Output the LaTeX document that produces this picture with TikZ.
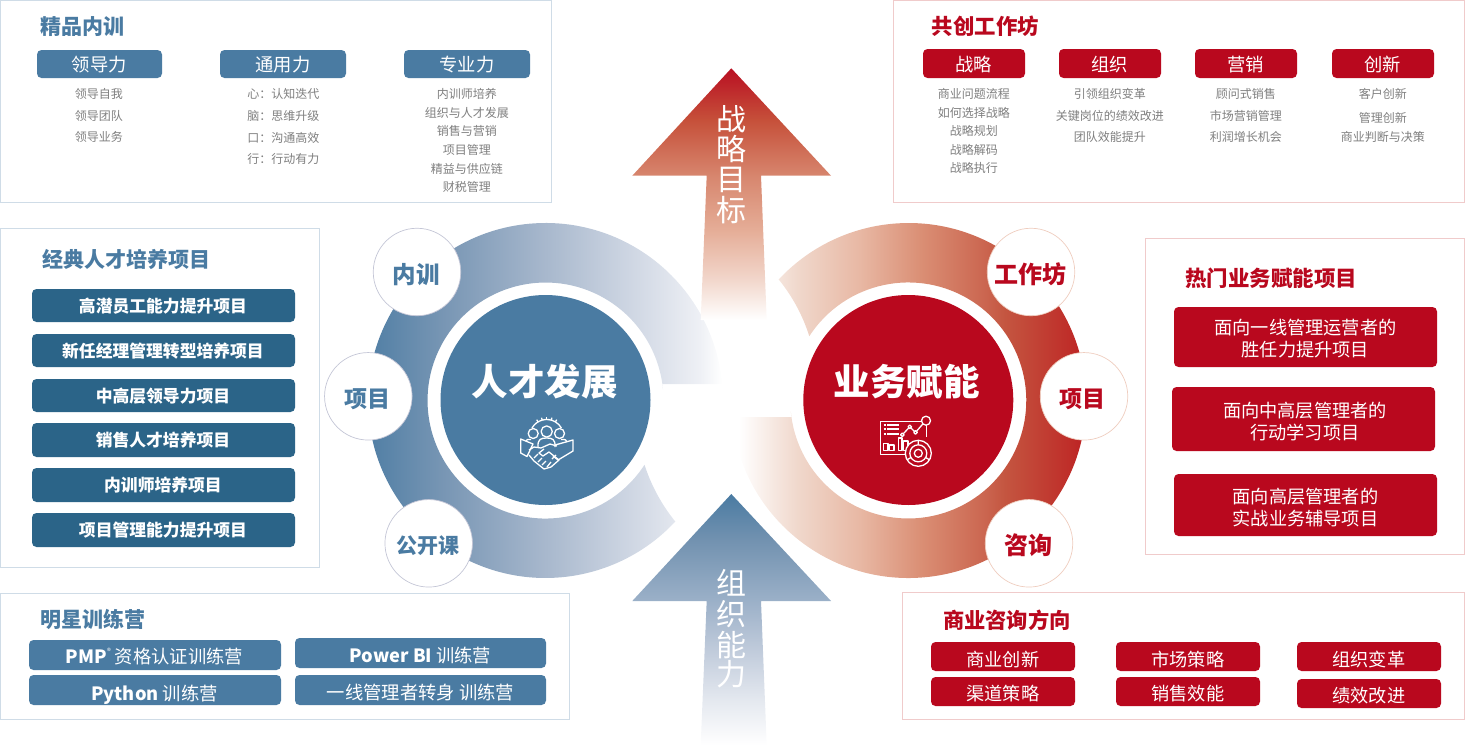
\documentclass[tikz,border=0pt]{standalone}
\usepackage{fontspec}
\setmainfont{Liberation Sans}
\newfontfamily\cjk{Noto Sans CJK SC}
\definecolor{bluec}{HTML}{4A7BA2}
\definecolor{bluedk}{HTML}{2B6488}
\definecolor{redc}{HTML}{B9081E}
\definecolor{grayt}{HTML}{7F7F7F}
\definecolor{bluebd}{HTML}{CFDCE7}
\definecolor{redbd}{HTML}{F0CBCB}
\definecolor{satbl}{HTML}{C4C6D6}
\definecolor{a1}{HTML}{4C7CA3}\definecolor{a2}{HTML}{7896B4}\definecolor{a3}{HTML}{A8B8CD}\definecolor{a4}{HTML}{D2D9E5}\definecolor{a5}{HTML}{EEF0F5}
\definecolor{b1}{HTML}{F0D8CC}\definecolor{b2}{HTML}{E8B8A4}\definecolor{b3}{HTML}{DA8E74}\definecolor{b4}{HTML}{CB6650}\definecolor{b5}{HTML}{C45540}\definecolor{b6}{HTML}{BF2F2A}\definecolor{b7}{HTML}{BA1A20}
\definecolor{c1}{HTML}{F2D7CC}\definecolor{c2}{HTML}{E5AD97}\definecolor{c3}{HTML}{D7866E}\definecolor{c4}{HTML}{C6503A}\definecolor{c5}{HTML}{B90F22}
\definecolor{d1}{HTML}{E4E8EF}\definecolor{d2}{HTML}{C0CBDB}\definecolor{d3}{HTML}{9BB0C8}\definecolor{d4}{HTML}{7292B0}\definecolor{d5}{HTML}{4A7BA2}
\pgfdeclarehorizontalshading{ringLeft}{100bp}{color(0bp)=(a1);color(25bp)=(a1);color(36.6bp)=(a2);color(50.7bp)=(a3);color(63.4bp)=(a4);color(71.9bp)=(a5);color(75bp)=(white);color(100bp)=(white)}
\pgfdeclarehorizontalshading{ringRight}{100bp}{color(0bp)=(white);color(26bp)=(white);color(34bp)=(b1);color(42.6bp)=(b2);color(51.2bp)=(b3);color(59.8bp)=(b4);color(62.7bp)=(b5);color(71.3bp)=(b6);color(75bp)=(b7);color(100bp)=(b7)}
\pgfdeclareverticalshading{arrUp}{100bp}{color(0bp)=(white);color(25bp)=(white);color(32.9bp)=(c1);color(42.9bp)=(c2);color(53.6bp)=(c3);color(64.7bp)=(c4);color(75bp)=(c5);color(100bp)=(c5)}
\pgfdeclareverticalshading{arrDown}{100bp}{color(0bp)=(white);color(25bp)=(white);color(34bp)=(d1);color(43.9bp)=(d2);color(53.7bp)=(d3);color(65.8bp)=(d4);color(75bp)=(d5);color(100bp)=(d5)}
\newcount\lblcnt
% \Lbl[font]{x}{y}{size}{colour}{text}: y is the vertical middle of the glyphs
\newcommand\Lbl[6][\cjk]{\global\advance\lblcnt by 1
  \node[lbl,text=#5,name=t\the\lblcnt] at ({#2-0.115*#4},{#3+0.41*#4}) {\fontsize{#4}{#4}\selectfont#1 #6};}
\newcommand\Chip[6]{\node[chip,fill=#6,minimum width={(#4-#2)*1pt},minimum height={(#5-#3)*1pt},name=#1] at ({(#2+#4)/2},{(#3+#5)/2}) {};}
\newcommand\Panel[6]{\node[panel,draw=#6,minimum width={(#4-#2-0.8)*1pt},minimum height={(#5-#3-0.8)*1pt},name=#1] at ({(#2+#4)/2},{(#3+#5)/2}) {};}
\tikzset{
  lbl/.style={anchor=base,inner sep=0pt,outer sep=0pt},
  chip/.style={rectangle,rounded corners=4.5pt,inner sep=0pt,outer sep=0pt},
  panel/.style={rectangle,fill=white,line width=1pt,inner sep=0pt,outer sep=0pt},
  hub/.style={circle,inner sep=0pt,minimum size=210pt},
  sat/.style={circle,fill=white,inner sep=0pt,minimum size=87.5pt,line width=.7pt},
  ico/.style={draw=white,line width=1.3pt,line join=round},
}
\begin{document}
\begin{tikzpicture}[x=1pt,y=-1pt]
\useasboundingbox (0,0) rectangle (1465,747);
% rings
\path[shading=ringLeft] (662.3,384) -- (722.2,384) arc[start angle=5.33,end angle=317,radius=177.5pt]
  .. controls (661.5,504.5) and (651.3,485.6) .. (644.5,464.8) arc[start angle=327,end angle=5.33,radius=118pt] -- cycle;
\path[shading=ringRight] (791.5,417) -- (731.8,417) arc[start angle=185.33,end angle=497,radius=177.5pt]
  .. controls (792.5,296.5) and (802.7,315.4) .. (809.3,336.2) arc[start angle=507,end angle=185.33,radius=118pt] -- cycle;
% arrows
\path[shading=arrUp] (731.3,68.3) -- (831,175.7) -- (761,175.7) -- (766.7,320) -- (700.7,320) -- (706.7,175.7) -- (632.3,175.7) -- cycle;
\path[shading=arrDown] (731.3,494) -- (831,601) -- (761,601) -- (766.7,745) -- (700.7,745) -- (706.7,601) -- (632.3,601) -- cycle;
\Lbl{731.5}{118}{30}{white}{战}
\Lbl{731.5}{148}{30}{white}{略}
\Lbl{731.5}{178}{30}{white}{目}
\Lbl{731.5}{209}{30}{white}{标}
\Lbl{731.5}{582}{30}{white}{组}
\Lbl{731.5}{613}{30}{white}{织}
\Lbl{731.5}{644}{30}{white}{能}
\Lbl{731.5}{673}{30}{white}{力}
% hubs
\node[hub,fill=bluec] (hubL) at (545.5,400) {};
\node[hub,fill=redc] (hubR) at (908.3,400) {};
\Lbl[\cjk\bfseries]{545}{381}{36.5}{white}{人才发展}
\Lbl[\cjk\bfseries]{907}{381}{36.5}{white}{业务赋能}
% satellites
\node[sat,draw=satbl] (sL1) at (417,272) {};
\node[sat,draw=satbl] (sL2) at (368.3,396.3) {};
\node[sat,draw=satbl] (sL3) at (428.7,543.3) {};
\node[sat,draw=b2!70] (sR1) at (1031,272) {};
\node[sat,draw=b2!70] (sR2) at (1084,396.3) {};
\node[sat,draw=b2!70] (sR3) at (1029,543.3) {};
\Lbl[\cjk\bfseries]{416.5}{274}{23.5}{bluec}{内训}
\Lbl[\cjk\bfseries]{367.5}{398}{23}{bluec}{项目}
\Lbl[\cjk\bfseries]{428.5}{544.5}{21}{bluec}{公开课}
\Lbl[\cjk\bfseries]{1031}{274}{24}{redc}{工作坊}
\Lbl[\cjk\bfseries]{1083}{398}{23}{redc}{项目}
\Lbl[\cjk\bfseries]{1028.5}{545}{24}{redc}{咨询}
% icon left: gear, people, handshake
\begin{scope}[ico]
\draw (532,428) arc[start angle=150,end angle=30,radius=17pt];
\foreach \a in {120,105,90,75,60}{\draw ([shift={(546.7,437)}]-\a:17.5) -- ([shift={(546.7,437)}]-\a:20);}
\draw (546.7,431.5) circle[radius=5.6pt];
\draw (533.2,433.5) circle[radius=5pt];
\draw (559.5,433.5) circle[radius=5pt];
\draw (538,447) .. controls (537.5,439) and (541,438) .. (546.7,438) .. controls (552,438) and (555.5,439) .. (555,447);
\draw (526,441) .. controls (526,439.5) and (528,439) .. (531,439.5);
\draw (561,439.5) .. controls (565,439) and (567,440) .. (567,442);
\draw (520.7,439) -- (520.7,453) -- (527,456.5) -- (533,444) -- cycle;
\draw (555,445) -- (573,440) -- (573,451) -- (558,460) -- (553,456);
\draw (529,450) -- (534,447) -- (541,448) -- (550,444) -- (557,446);
\draw (544,449) -- (539,453) -- (543,456) -- (549,452) -- (559,460) -- (551,467) -- (544,469) -- (534,461) -- (529,455);
\draw (534,458) -- (538,454);\draw (538,462) -- (542,458);\draw (542,465) -- (546,461);\draw (547,467) -- (551,462);
\draw (552,459) -- (556,455);
\end{scope}
% icon right: chart and target
\begin{scope}[ico]
\draw (926.5,437) -- (926.5,425);
\draw (921,421.7) -- (880.7,421.7) -- (880.7,454.7) -- (905,454.7);
\foreach \y in {425,429,434}{\draw[line width=1.1pt] (883.5,\y) -- (885.5,\y) (887,\y) -- (899,\y);}
\draw (883.5,443.5) rectangle (888,450.5);
\draw (889.5,445) rectangle (894,450.5);
\draw (898.5,438) rectangle (902,450.5);
\draw (903.5,441) rectangle (908,450.5);
\draw (902.3,434.8) -- (909.8,426.8) -- (915.5,432.4) -- (922.8,424);
\draw[fill=redc] (902.3,434.8) circle[radius=1.8pt];
\draw[fill=redc] (909.8,426.8) circle[radius=1.8pt];
\draw[fill=redc] (915.5,432.4) circle[radius=1.8pt];
\draw[fill=redc] (926,420.7) circle[radius=4.5pt];
\draw[fill=redc] (918.3,453.3) circle[radius=13pt];
\draw (918.3,453.3) circle[radius=8.5pt];
\draw (918.3,453.3) circle[radius=4pt];
\draw (918.3,440.3) -- (918.3,444.8) (907,459.8) -- (911,457.5) (929.6,459.8) -- (925.6,457.5);
\end{scope}
% top-left panel
\Panel{p1}{0}{0}{552}{203}{bluebd}
\Lbl[\cjk\bfseries]{82.5}{26}{21}{bluec}{精品内训}
\Chip{c11}{37}{50}{162}{78}{bluec}
\Chip{c12}{220}{50}{346}{78}{bluec}
\Chip{c13}{404}{50}{530}{78}{bluec}
\Lbl{99.5}{64}{18.3}{white}{领导力}
\Lbl{283}{64}{18.3}{white}{通用力}
\Lbl{467}{64}{18.3}{white}{专业力}
\Lbl{99}{94}{12}{grayt}{领导自我}
\Lbl{99}{116}{12}{grayt}{领导团队}
\Lbl{99}{137}{12}{grayt}{领导业务}
\Lbl{283.5}{94}{12}{grayt}{心：认知迭代}
\Lbl{283.5}{116}{12}{grayt}{脑：思维升级}
\Lbl{283.5}{138}{12}{grayt}{口：沟通高效}
\Lbl{283.5}{159}{12}{grayt}{行：行动有力}
\Lbl{467}{94}{12}{grayt}{内训师培养}
\Lbl{467}{113}{12}{grayt}{组织与人才发展}
\Lbl{467}{131}{12}{grayt}{销售与营销}
\Lbl{467}{150}{12}{grayt}{项目管理}
\Lbl{467}{169}{12}{grayt}{精益与供应链}
\Lbl{467}{187}{12}{grayt}{财税管理}
% left panel
\Panel{p2}{0}{228}{320}{568}{bluebd}
\Lbl[\cjk\bfseries]{127}{259}{21}{bluec}{经典人才培养项目}
\Chip{c21}{32}{289}{295}{322}{bluedk}
\Chip{c22}{32}{334}{295}{367}{bluedk}
\Chip{c23}{32}{379}{295}{412}{bluedk}
\Chip{c24}{32}{423}{295}{457}{bluedk}
\Chip{c25}{32}{468}{295}{502}{bluedk}
\Chip{c26}{32}{513}{295}{547}{bluedk}
\Lbl[\cjk\bfseries]{163}{305.5}{16.8}{white}{高潜员工能力提升项目}
\Lbl[\cjk\bfseries]{163}{350.5}{16.8}{white}{新任经理管理转型培养项目}
\Lbl[\cjk\bfseries]{163}{395.5}{16.8}{white}{中高层领导力项目}
\Lbl[\cjk\bfseries]{163}{440}{16.8}{white}{销售人才培养项目}
\Lbl[\cjk\bfseries]{163}{485}{16.8}{white}{内训师培养项目}
\Lbl[\cjk\bfseries]{163}{530}{16.8}{white}{项目管理能力提升项目}
% bottom-left panel
\Panel{p3}{0}{593}{570}{720}{bluebd}
\Lbl[\cjk\bfseries]{93}{619}{21}{bluec}{明星训练营}
\Chip{c31}{29}{640}{281}{670}{bluec}
\Chip{c32}{295}{638}{546}{668}{bluec}
\Chip{c33}{29}{675}{281}{705}{bluec}
\Chip{c34}{295}{675}{546}{705}{bluec}
\Lbl{154.5}{656}{18.3}{white}{{\bfseries PMP}\raisebox{.5em}{\fontsize{8}{8}\selectfont ®} 资格认证训练营}
\Lbl{420.5}{655}{18.3}{white}{{\bfseries Power BI} 训练营}
\Lbl{154.5}{693}{18.3}{white}{{\bfseries Python} 训练营}
\Lbl{420.5}{692}{18.3}{white}{一线管理者转身 训练营}
% top-right panel
\Panel{p4}{893}{0}{1465}{203}{redbd}
\Lbl[\cjk\bfseries]{985.5}{26}{21.4}{redc}{共创工作坊}
\Chip{c41}{923}{49}{1025}{78}{redc}
\Chip{c42}{1059}{49}{1161}{78}{redc}
\Chip{c43}{1195}{49}{1297}{78}{redc}
\Chip{c44}{1332}{49}{1434}{78}{redc}
\Lbl{974}{64}{18.3}{white}{战略}
\Lbl{1110}{64}{18.3}{white}{组织}
\Lbl{1246}{64}{18.3}{white}{营销}
\Lbl{1383}{64}{18.3}{white}{创新}
\Lbl{974}{94}{12}{grayt}{商业问题流程}
\Lbl{974}{113}{12}{grayt}{如何选择战略}
\Lbl{974}{131}{12}{grayt}{战略规划}
\Lbl{974}{150}{12}{grayt}{战略解码}
\Lbl{974}{168}{12}{grayt}{战略执行}
\Lbl{1110}{94}{12}{grayt}{引领组织变革}
\Lbl{1110}{116}{12}{grayt}{关键岗位的绩效改进}
\Lbl{1110}{137}{12}{grayt}{团队效能提升}
\Lbl{1246}{94}{12}{grayt}{顾问式销售}
\Lbl{1246}{116}{12}{grayt}{市场营销管理}
\Lbl{1246}{137}{12}{grayt}{利润增长机会}
\Lbl{1383}{94}{12}{grayt}{客户创新}
\Lbl{1383}{118}{12}{grayt}{管理创新}
\Lbl{1383}{137}{12}{grayt}{商业判断与决策}
% right panel
\Panel{p5}{1145}{238}{1465}{555}{redbd}
\Lbl[\cjk\bfseries]{1271}{278}{21.5}{redc}{热门业务赋能项目}
\Chip{c51}{1174}{307}{1437}{367}{redc}
\Chip{c52}{1172}{387}{1435}{451}{redc}
\Chip{c53}{1174}{474}{1437}{536}{redc}
\Lbl{1305.5}{327}{18.2}{white}{面向一线管理运营者的}
\Lbl{1305.5}{349}{18.2}{white}{胜任力提升项目}
\Lbl{1305}{410}{18.2}{white}{面向中高层管理者的}
\Lbl{1305}{432}{18.2}{white}{行动学习项目}
\Lbl{1305.5}{496}{18.2}{white}{面向高层管理者的}
\Lbl{1305.5}{518}{18.2}{white}{实战业务辅导项目}
% bottom-right panel
\Panel{p6}{902}{592}{1465}{720}{redbd}
\Lbl[\cjk\bfseries]{1007}{620}{21.3}{redc}{商业咨询方向}
\Chip{c61}{931}{642}{1075}{671}{redc}
\Chip{c62}{1116}{642}{1260}{671}{redc}
\Chip{c63}{1297}{642}{1441}{671}{redc}
\Chip{c64}{931}{677}{1075}{706}{redc}
\Chip{c65}{1116}{677}{1260}{706}{redc}
\Chip{c66}{1297}{679}{1441}{708}{redc}
\Lbl{1003}{659}{18.2}{white}{商业创新}
\Lbl{1188}{659}{18.2}{white}{市场策略}
\Lbl{1369}{659}{18.2}{white}{组织变革}
\Lbl{1003}{693}{18.2}{white}{渠道策略}
\Lbl{1188}{693}{18.2}{white}{销售效能}
\Lbl{1369}{695}{18.2}{white}{绩效改进}
\end{tikzpicture}
\end{document}
